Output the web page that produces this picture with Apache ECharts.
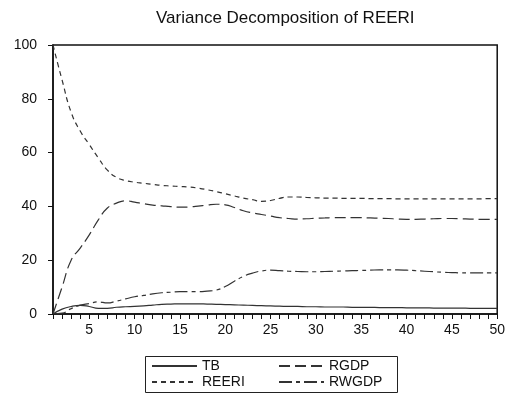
<!DOCTYPE html>
<html>
<head>
<meta charset="utf-8">
<script src="https://cdn.jsdelivr.net/npm/echarts@6/dist/echarts.min.js"></script>
<style>
  html, body { margin: 0; padding: 0; background: #fff; }
  #chart { width: 508px; height: 394px; }
</style>
</head>
<body>
<div id="chart"></div>
<script>
  // periods 1..50
  var periods = [];
  for (var i = 1; i <= 50; i++) periods.push(String(i));

  var yTicks = [0, 20, 40, 60, 80, 100];

  var tb = [0, 1.8, 2.8, 3.2, 2.8, 2.1, 2.1, 2.5, 2.7, 2.8,
    3.0, 3.3, 3.6, 3.7, 3.8, 3.8, 3.8, 3.7, 3.6, 3.5,
    3.4, 3.3, 3.2, 3.1, 3.0, 2.9, 2.8, 2.8, 2.7, 2.7,
    2.6, 2.6, 2.6, 2.5, 2.5, 2.5, 2.4, 2.4, 2.4, 2.3,
    2.3, 2.3, 2.2, 2.2, 2.2, 2.2, 2.1, 2.1, 2.1, 2.1];

  var reeri = [100, 87, 75, 68, 63, 58, 53.5, 50.8, 49.6, 49,
    48.6, 48.2, 47.8, 47.6, 47.4, 47.2, 46.8, 46.2, 45.5, 44.7,
    43.9, 43.1, 42.5, 41.9, 42.2, 43, 43.5, 43.5, 43.3, 43.2,
    43.1, 43.1, 43, 43, 43, 42.9, 42.9, 42.9, 42.8, 42.8,
    42.8, 42.8, 42.8, 42.8, 42.8, 42.8, 42.8, 42.8, 42.9, 42.9];

  var rgdp = [0, 10, 20, 24.5, 29.4, 35, 39.4, 41.2, 42.1, 41.6,
    41, 40.5, 40.2, 39.9, 39.7, 39.8, 40.1, 40.5, 40.8, 40.6,
    39.6, 38.4, 37.6, 37, 36.4, 35.8, 35.5, 35.3, 35.4, 35.6,
    35.7, 35.8, 35.8, 35.8, 35.8, 35.7, 35.6, 35.5, 35.3, 35.2,
    35.2, 35.3, 35.4, 35.5, 35.5, 35.4, 35.3, 35.2, 35.2, 35.2];

  var rwgdp = [0, 0.3, 2, 3.3, 3.9, 4.5, 4.1, 4.8, 5.6, 6.4,
    6.9, 7.5, 7.9, 8.1, 8.3, 8.3, 8.3, 8.5, 8.9, 10.2,
    12.2, 14, 15.2, 16, 16.3, 16.1, 15.9, 15.8, 15.7, 15.7,
    15.8, 15.9, 16, 16.1, 16.2, 16.3, 16.4, 16.4, 16.4, 16.3,
    16.1, 15.9, 15.7, 15.5, 15.4, 15.3, 15.3, 15.3, 15.3, 15.3];

  var lineColor = '#333';
  var font = 'Liberation Sans, Arial, sans-serif';

  function mkLine(name, data, dash) {
    return {
      name: name,
      type: 'line',
      data: data,
      smooth: true,
      symbol: 'none',
      lineStyle: { color: lineColor, width: 1.2, type: dash },
      itemStyle: { color: lineColor }
    };
  }

  var legendBase = {
    orient: 'vertical',
    top: 359,
    padding: 0,
    itemWidth: 45,
    itemHeight: 14,
    itemGap: 2,
    itemStyle: { opacity: 0 },
    textStyle: { fontFamily: font, fontSize: 14, color: '#111' }
  };

  var chart = echarts.init(document.getElementById('chart'));
  chart.setOption({
    animation: false,
    title: {
      text: 'Variance Decomposition of REERI',
      left: 151,
      top: 5,
      textStyle: { fontFamily: font, fontSize: 17, fontWeight: 'normal', color: '#111' }
    },
    grid: {
      left: 53, right: 7, top: 45, bottom: 80,
      show: true, borderColor: '#111', borderWidth: 1.5
    },
    legend: [
      Object.assign({ left: 151, data: ['TB', 'REERI'] }, legendBase),
      Object.assign({ left: 278, data: ['RGDP', 'RWGDP'] }, legendBase)
    ],
    graphic: [{
      type: 'rect',
      left: 143, top: 354,
      shape: { width: 252, height: 36 },
      style: { fill: 'none', stroke: '#222', lineWidth: 1 }
    }],
    xAxis: {
      type: 'category',
      data: periods,
      boundaryGap: false,
      axisLine: { lineStyle: { color: '#111', width: 1.5 } },
      axisTick: { interval: 0, length: 5, lineStyle: { color: '#111' } },
      axisLabel: {
        interval: function (idx, val) { return Number(val) % 5 === 0; },
        margin: 9,
        fontFamily: font, fontSize: 14, color: '#111'
      },
      splitLine: { show: false }
    },
    yAxis: {
      type: 'value',
      min: yTicks[0],
      max: yTicks[yTicks.length - 1],
      interval: 20,
      axisLine: { show: true, lineStyle: { color: '#111', width: 1.5 } },
      axisTick: { show: true, length: 5, lineStyle: { color: '#111' } },
      axisLabel: { margin: 16, fontFamily: font, fontSize: 14, color: '#111' },
      splitLine: { show: false }
    },
    series: [
      mkLine('TB', tb, 'solid'),
      mkLine('REERI', reeri, [5, 4]),
      mkLine('RGDP', rgdp, [11, 5]),
      mkLine('RWGDP', rwgdp, [13, 4, 4, 4])
    ]
  });
</script>
</body>
</html>
